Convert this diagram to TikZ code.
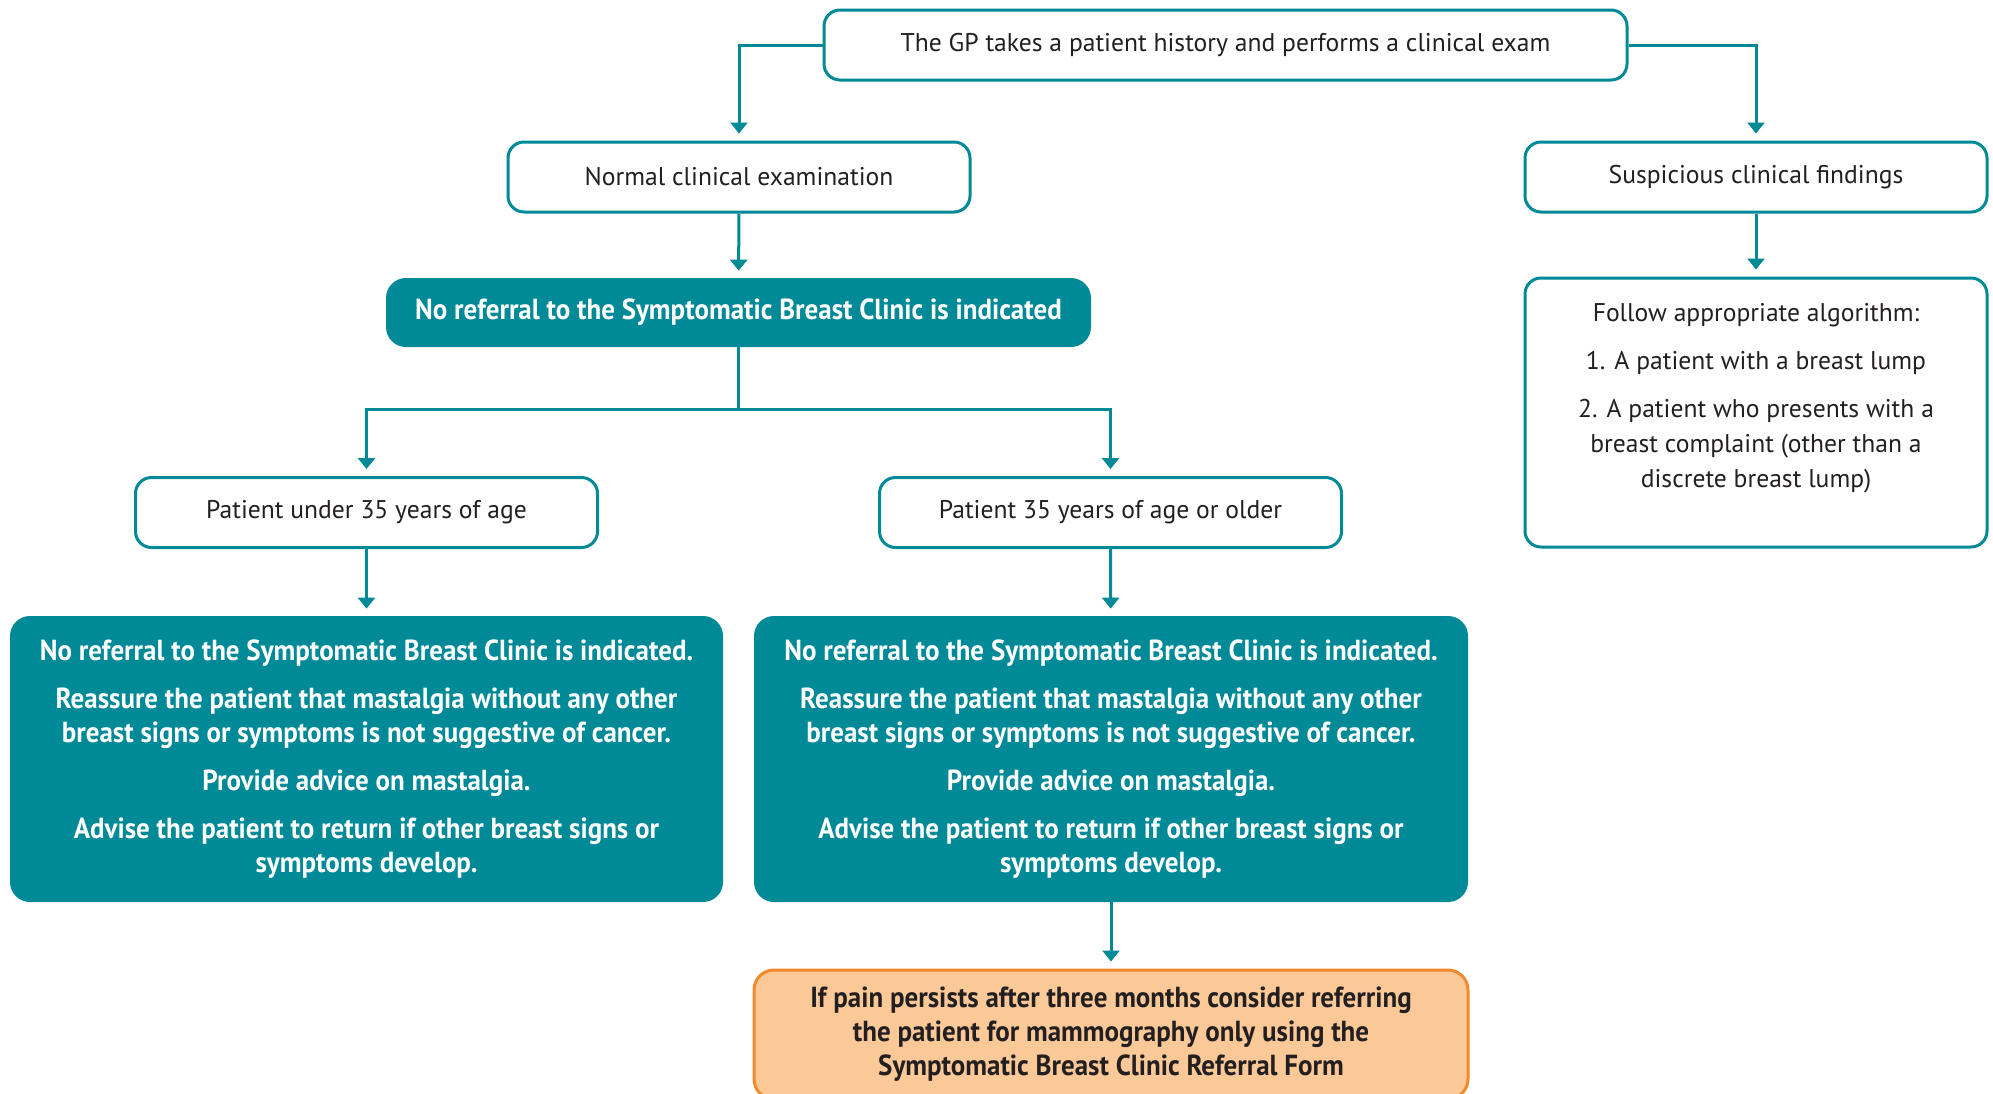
\documentclass[tikz,border=0pt]{standalone}
\usepackage{fontspec}
\setmainfont{PT Sans}
\newfontfamily\condfont{PT Sans}[FakeStretch=0.93]
\usepackage{tikz}
\usetikzlibrary{arrows.meta}
\definecolor{teal}{RGB}{0,137,150}
\definecolor{ink}{RGB}{35,31,32}
\definecolor{peach}{RGB}{251,200,152}
\definecolor{rim}{RGB}{240,138,44}
\tikzset{
    box/.style={draw=teal, line width=1.5pt, rounded corners=8pt, fill=white, text=ink,
      minimum width=231pt, minimum height=35pt, align=center,
      font=\fontsize{12.8}{17.5}\selectfont},
    solid/.style={fill=teal, rounded corners=10pt, text=white, align=center,
      font=\condfont\bfseries\fontsize{14.5}{17}\selectfont},
    note/.style={fill=peach, draw=rim, line width=1.5pt, rounded corners=10pt, text=ink,
      align=center, font=\condfont\bfseries\fontsize{14.5}{17}\selectfont},
    arr/.style={draw=teal, line width=1.5pt, -{Triangle[width=8.5pt,length=5.5pt]}, shorten >=3.5pt}
}
\newcommand{\advicetext}{No referral to the Symptomatic Breast Clinic is indicated.\\[7pt]
  Reassure the patient that mastalgia without any other\\
  breast signs or symptoms is not suggestive of cancer.\\[7pt]
  Provide advice on mastalgia.\\[7pt]
  Advise the patient to return if other breast signs or\\ symptoms develop.}

\begin{document}
\begin{tikzpicture}[x=0.5pt, y=-0.5pt]
  \useasboundingbox (0,0) rectangle (1993,1093);
  \node [box, minimum width=401.5pt] (exam) at (1225.5,45) {The GP takes a patient history and performs a clinical exam};
  \node [box] (normal) at (739,177) {Normal clinical examination};
  \node [box] (susp) at (1756,177) {Suspicious clinical findings};
  \node [box, minimum height=134.5pt] (algo) at (1756,412.5) {};
  \node [align=center, text=ink, font=\fontsize{12.8}{17.5}\selectfont, anchor=north]
    (algotxt) at (1756,296) {Follow appropriate algorithm:\\[6.5pt]
    1. A patient with a breast lump\\[6.5pt]
    2. A patient who presents with a\\ breast complaint (other than a\\ discrete breast lump)};
  \node [solid, minimum width=352.5pt, minimum height=34.5pt] (noref) at (738.5,312.5)
    {No referral to the Symptomatic Breast Clinic is indicated};
  \coordinate (split) at (738.5,409);
  \node [box] (young) at (366.5,512.5) {Patient under 35 years of age};
  \node [box] (old) at (1110.5,512.5) {Patient 35 years of age or older};
  \node [solid, minimum width=356.5pt, minimum height=143pt] (adviceA) at (366.5,759) {\advicetext};
  \node [solid, minimum width=357pt, minimum height=143pt] (adviceB) at (1111,759) {\advicetext};
  \node [note, minimum width=357pt, minimum height=64.5pt] (mammo) at (1111,1034.5)
    {If pain persists after three months consider referring\\
     the patient for mammography only using the\\
     Symptomatic Breast Clinic Referral Form};

  \draw [arr] (exam.west) -| (normal.north);
  \draw [arr] (exam.east) -| (susp.north);
  \draw [arr] (normal) -- (noref);
  \draw [arr] (susp) -- (algo);
  \draw [draw=teal, line width=1.5pt] (noref.south) -- (split);
  \draw [arr] (split) -| (young.north);
  \draw [arr] (split) -| (old.north);
  \draw [arr] (young) -- (adviceA);
  \draw [arr] (old) -- (adviceB);
  \draw [arr] (adviceB) -- (mammo);
\end{tikzpicture}
\end{document}
